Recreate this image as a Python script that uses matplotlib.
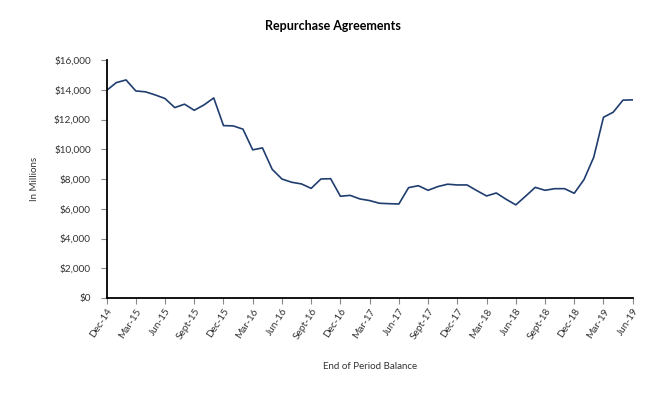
import matplotlib
matplotlib.use("Agg")
import matplotlib.pyplot as plt
from matplotlib.ticker import FuncFormatter

plt.rcParams['font.family'] = ['Lato', 'DejaVu Sans']

# Monthly end-of-period balance, Dec-14 .. Jun-19 (in millions)
values = [
    13950, 14480, 14660, 13920, 13860, 13650, 13410, 12800, 13030, 12620,
    12980, 13450, 11590, 11570, 11350, 9960, 10090, 8650, 8000, 7780,
    7670, 7370, 8000, 8020, 6840, 6900, 6660, 6550, 6370, 6340,
    6320, 7420, 7550, 7240, 7490, 7650, 7600, 7600, 7220, 6860,
    7060, 6640, 6260, 6840, 7440, 7240, 7350, 7350, 7040, 7960,
    9460, 12150, 12490, 13300, 13320,
]
tick_labels = ["Dec-14", "Mar-15", "Jun-15", "Sept-15", "Dec-15", "Mar-16",
               "Jun-16", "Sept-16", "Dec-16", "Mar-17", "Jun-17", "Sept-17",
               "Dec-17", "Mar-18", "Jun-18", "Sept-18", "Dec-18", "Mar-19",
               "Jun-19"]
y_ticks = [0, 2000, 4000, 6000, 8000, 10000, 12000, 14000, 16000]

fig = plt.figure(figsize=(6.66, 4.0), dpi=100)
ax = fig.add_axes([0.160, 0.255, 0.790, 0.595])

x = list(range(len(values)))
ax.plot(x, values, color="#1F3D6E", linewidth=1.2)

ax.set_xlim(0, len(values) - 1)
ax.set_ylim(0, 16000)
ax.set_yticks(y_ticks)
ax.yaxis.set_major_formatter(FuncFormatter(lambda v, p: "${:,.0f}".format(v)))
ax.set_xticks(list(range(0, len(values), 3)))
ax.set_xticklabels(tick_labels, rotation=57, ha="right", rotation_mode="anchor")

for s in ["top", "right"]:
    ax.spines[s].set_visible(False)
for s in ["left", "bottom"]:
    ax.spines[s].set_color("black")
    ax.spines[s].set_linewidth(1.3)

ax.tick_params(axis="both", direction="out", color="#888888", length=4.3,
               width=0.8, labelsize=7.2, labelcolor="#333333")
ax.tick_params(axis="y", pad=7)
ax.tick_params(axis="x", pad=2)

ax.set_ylabel("In Millions", fontsize=7, color="#333333", labelpad=11)
ax.set_xlabel("End of Period Balance", fontsize=7, color="#333333", labelpad=15)
fig.text(0.5, 0.935, "Repurchase Agreements", ha="center", va="center",
         fontsize=9, fontweight="bold", color="black")

fig.savefig("out.png", dpi=100)
